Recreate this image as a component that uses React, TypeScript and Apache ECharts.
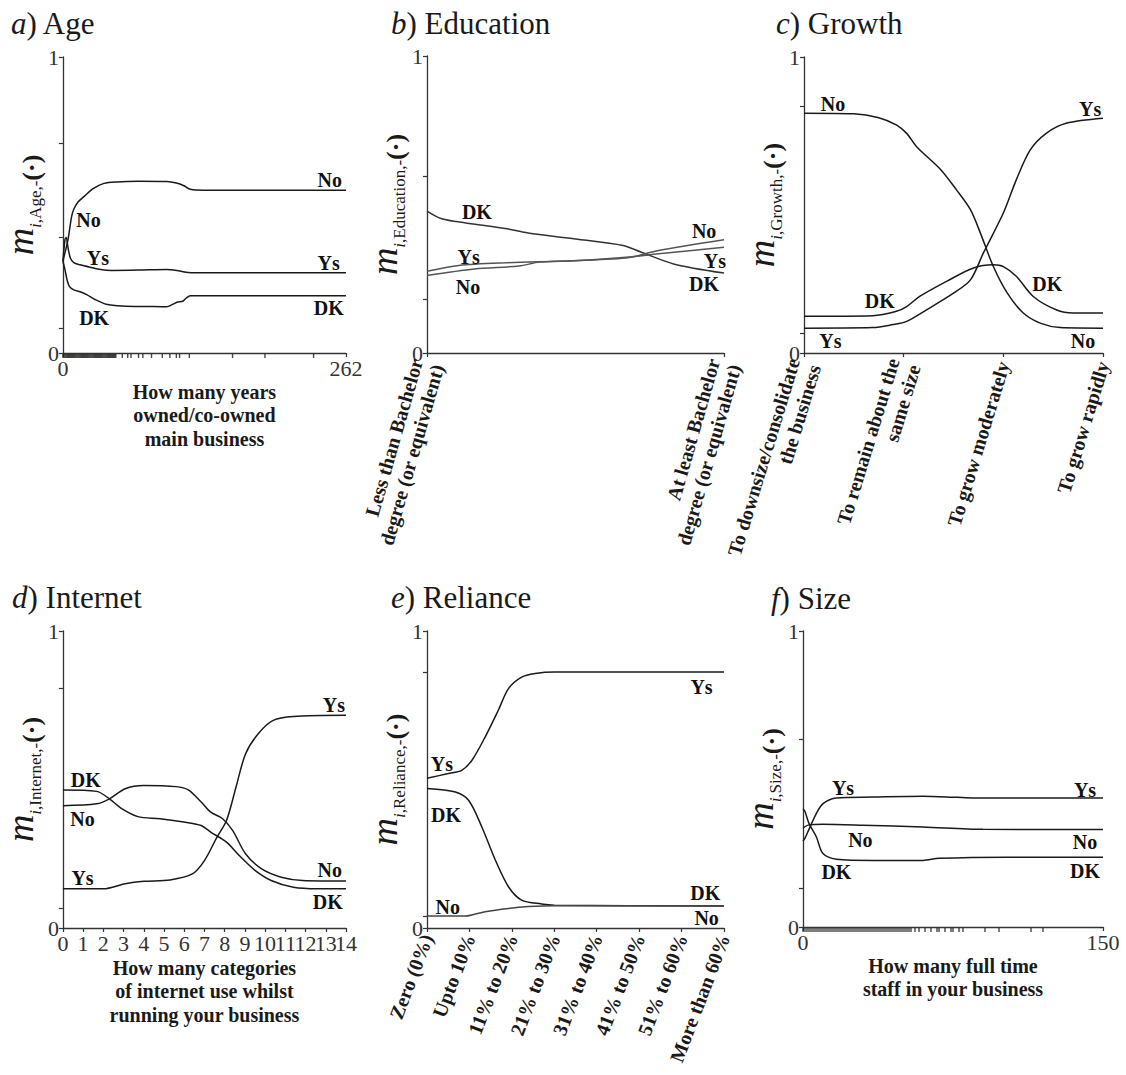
import React, { useEffect, useRef } from "react";
import * as echarts from "echarts";

const SERIF = "'Liberation Serif', 'Times New Roman', serif";
const INK = "#1a1a1a";
const AXIS = "#333";

// ---------- a) Age ----------
const ageNo = [[0,0.31],[2,0.34],[4,0.37],[5.5,0.40],[8,0.46],[10,0.485],[14,0.51],[20,0.53],[28,0.555],[38,0.573],[50,0.578],[70,0.58],[96,0.579],[105,0.574],[112,0.565],[118,0.553],[130,0.55],[262,0.55]];
const ageYs = [[0,0.31],[2,0.385],[3,0.39],[5,0.35],[7,0.32],[10,0.305],[16,0.298],[25,0.29],[35,0.282],[45,0.279],[70,0.28],[96,0.282],[108,0.277],[116,0.272],[130,0.271],[262,0.271]];
const ageDK = [[0,0.31],[2,0.28],[4,0.245],[6,0.225],[10,0.213],[16,0.207],[22,0.197],[30,0.18],[40,0.165],[55,0.159],[80,0.157],[96,0.156],[102,0.165],[106,0.172],[111,0.175],[114,0.185],[118,0.193],[262,0.193]];
const ageRug = [...Array.from({ length: 50 }, (_, i) => i), 55, 60, 63, 70, 74, 82, 92, 99, 105, 108, 117, 157, 187, 232];
const ageYTicks = [0, 0.082, 0.39, 0.709, 1];
const ageTags = [["No", 23.7, 0.449], ["Ys", 32.4, 0.321], ["DK", 28.9, 0.118], ["No", 247, 0.584], ["Ys", 246, 0.304], ["DK", 246, 0.152]];

// ---------- b) Education ----------
const eduCats = ["Less than Bachelor\ndegree (or equivalent)", "At least Bachelor\ndegree (or equivalent)"];
const eduDK = [[0,0.478],[0.05,0.452],[0.13,0.438],[0.27,0.418],[0.34,0.404],[0.5,0.384],[0.66,0.362],[0.72,0.34],[0.83,0.30],[1,0.269]];
const eduYs = [[0,0.275],[0.107,0.295],[0.27,0.304],[0.5,0.311],[0.67,0.322],[0.78,0.334],[1,0.356]];
const eduNo = [[0,0.261],[0.16,0.283],[0.31,0.293],[0.38,0.306],[0.67,0.32],[0.78,0.345],[1,0.381]];
const eduYTicks = [0, 0.18, 0.594, 1];
const eduTags = [["DK", 0.168, 0.474], ["Ys", 0.14, 0.322], ["No", 0.138, 0.222], ["No", 0.933, 0.412], ["Ys", 0.969, 0.311], ["DK", 0.933, 0.233]];

// ---------- c) Growth ----------
const growCats = ["To downsize/consolidate\nthe business", "To remain about the\nsame size", "To grow moderately", "To grow rapidly"];
const growNo = [[0,0.81],[0.5,0.808],[0.75,0.795],[0.93,0.77],[1.03,0.742],[1.13,0.697],[1.37,0.62],[1.53,0.551],[1.67,0.484],[1.77,0.405],[1.9,0.292],[2.04,0.202],[2.2,0.135],[2.37,0.101],[2.57,0.086],[3,0.084]];
const growYs = [[0,0.084],[0.69,0.086],[0.89,0.096],[1.03,0.107],[1.23,0.146],[1.5,0.202],[1.67,0.247],[1.8,0.338],[2.0,0.473],[2.13,0.585],[2.27,0.686],[2.43,0.742],[2.63,0.776],[3,0.793]];
const growDK = [[0,0.124],[0.69,0.126],[0.92,0.14],[1.03,0.157],[1.16,0.191],[1.43,0.242],[1.7,0.287],[1.9,0.298],[2.0,0.292],[2.13,0.259],[2.3,0.191],[2.53,0.146],[2.7,0.135],[3,0.135]];
const growYTicks = [0, 0.068, 0.834, 1];
const growTags = [["No", 0.29, 0.841], ["Ys", 2.87, 0.823], ["DK", 2.44, 0.234], ["DK", 0.76, 0.174], ["Ys", 0.265, 0.039], ["No", 2.8, 0.039]];

// ---------- d) Internet ----------
const netDK = [[0,0.465],[1.67,0.46],[2.3,0.435],[2.93,0.401],[3.71,0.375],[4.8,0.368],[6.06,0.356],[6.84,0.345],[7.31,0.323],[8.09,0.289],[8.72,0.244],[9.5,0.194],[10.3,0.16],[11.4,0.137],[12.6,0.132],[14,0.132]];
const netNo = [[0,0.412],[1.67,0.418],[2.3,0.435],[3.08,0.469],[4.0,0.48],[5.6,0.476],[6.2,0.465],[6.84,0.424],[7.31,0.39],[7.9,0.368],[8.4,0.328],[9.03,0.25],[9.81,0.2],[10.8,0.171],[11.85,0.16],[14,0.158]];
const netYs = [[0,0.132],[2.0,0.132],[3.08,0.149],[4.0,0.157],[5.3,0.162],[6.4,0.182],[7.0,0.227],[7.62,0.306],[8.09,0.362],[8.56,0.474],[9.03,0.586],[9.66,0.654],[10.4,0.699],[11.4,0.712],[14,0.716]];
const netEvenLabels = [0, 2, 4, 6, 8, 10, 12, 14];
const netOddLabels = [1, 3, 5, 7, 9, 11, 13];
const netYTicks = [0, 0.067, 0.806, 1];
const netTags = [["DK", 1.13, 0.497], ["No", 0.97, 0.368], ["Ys", 0.97, 0.168], ["Ys", 13.4, 0.751], ["No", 13.2, 0.196], ["DK", 13.1, 0.087]];

// ---------- e) Reliance ----------
const relCats = ["Zero (0%)", "Upto 10%", "11% to 20%", "21% to 30%", "31% to 40%", "41% to 50%", "51% to 60%", "More than 60%"];
const relYs = [[0,0.504],[0.5,0.52],[0.82,0.531],[1.06,0.565],[1.37,0.643],[1.68,0.733],[1.92,0.806],[2.23,0.845],[2.55,0.857],[3,0.862],[7,0.862]];
const relDK = [[0,0.47],[0.67,0.458],[0.98,0.43],[1.29,0.341],[1.61,0.229],[1.92,0.139],[2.23,0.094],[2.7,0.081],[3,0.077],[7,0.074]];
const relNo = [[0,0.04],[0.9,0.04],[1.37,0.055],[1.92,0.066],[2.39,0.072],[3,0.075],[7,0.075]];
const relYTicks = [0, 0.04, 0.862, 1];
const relTags = [["Ys", 0.35, 0.552], ["DK", 0.45, 0.38], ["No", 0.49, 0.072], ["Ys", 6.47, 0.81], ["DK", 6.56, 0.117], ["No", 6.59, 0.033]];

// ---------- f) Size ----------
const sizeYs = [[0,0.29],[1,0.3],[3,0.33],[6.7,0.384],[10,0.417],[16.7,0.436],[35,0.439],[60,0.442],[77,0.438],[85,0.436],[150,0.436]];
const sizeNo = [[0,0.335],[3,0.345],[10,0.347],[30,0.344],[60,0.338],[90,0.33],[150,0.329]];
const sizeDK = [[0,0.40],[1,0.39],[3,0.35],[6.7,0.304],[10,0.248],[16.7,0.229],[35,0.225],[60,0.225],[68,0.232],[102,0.236],[150,0.236]];
const sizeRug = [...Array.from({ length: 55 }, (_, i) => i), 56, 58, 61, 64, 67, 68, 71, 74, 75, 78, 80, 91, 98, 114, 120];
const sizeYTicks = [0, 0.13, 0.634, 1];
const sizeTags = [["Ys", 20, 0.468], ["Ys", 141, 0.464], ["No", 28.7, 0.293], ["No", 141, 0.287], ["DK", 16.7, 0.186], ["DK", 141, 0.19]];

type Panel = {
  letter: string; title: string; sub: string;
  grid: { left: number; top: number; width: number; height: number };
  titlePos: [number, number];
  x: any; lines: { data: number[][]; color: string }[]; tags: any[]; yTicks: number[]; rug?: number[];
  extraLabels?: number[];
};

const boldName = {
  fontFamily: SERIF, fontWeight: "bold", fontSize: 20, lineHeight: 23.5, color: INK,
};

const tickLabel = { fontFamily: SERIF, fontSize: 22, color: AXIS, hideOverlap: false, showMinLabel: true, showMaxLabel: true };
const catLabel = { fontFamily: SERIF, fontWeight: "bold", fontSize: 20, lineHeight: 22, color: INK, margin: 9, hideOverlap: false };

const panels: Panel[] = [
  {
    letter: "a", title: "Age", sub: "Age", titlePos: [11, 8],
    grid: { left: 47, top: 57, width: 299, height: 296 },
    x: { min: 0, max: 262, axisTick: { customValues: [0, 262], length: 4 }, axisLabel: { customValues: [0, 262], ...tickLabel, margin: 4 },
      name: "How many years\nowned/co-owned\nmain business", nameGap: 25 },
    lines: [{ data: ageNo, color: INK }, { data: ageYs, color: INK }, { data: ageDK, color: INK }],
    tags: ageTags, yTicks: ageYTicks, rug: ageRug,
  },
  {
    letter: "b", title: "Education", sub: "Education", titlePos: [391, 8],
    grid: { left: 427, top: 56, width: 297, height: 297 },
    x: { min: 0, max: 1, interval: 1, axisTick: { length: 4 },
      axisLabel: { formatter: (v: number) => eduCats[Math.round(v)] ?? "", rotate: 74, ...catLabel } },
    lines: [{ data: eduDK, color: "#333" }, { data: eduYs, color: "#555" }, { data: eduNo, color: "#555" }],
    tags: eduTags, yTicks: eduYTicks,
  },
  {
    letter: "c", title: "Growth", sub: "Growth", titlePos: [776, 8],
    grid: { left: 804, top: 57, width: 299, height: 296 },
    x: { min: 0, max: 3, interval: 1, axisTick: { length: 4 },
      axisLabel: { formatter: (v: number) => growCats[Math.round(v)] ?? "", rotate: 73, ...catLabel } },
    lines: [{ data: growNo, color: INK }, { data: growYs, color: INK }, { data: growDK, color: INK }],
    tags: growTags, yTicks: growYTicks,
  },
  {
    letter: "d", title: "Internet", sub: "Internet", titlePos: [12, 582],
    grid: { left: 48, top: 631, width: 298, height: 297 },
    x: { min: 0, max: 14, interval: 1, axisTick: { length: 4 },
      axisLabel: { ...tickLabel, margin: 4, customValues: netEvenLabels },
      name: "How many categories\nof internet use whilst\nrunning your business", nameGap: 28 },
    extraLabels: netOddLabels,
    lines: [{ data: netDK, color: INK }, { data: netNo, color: INK }, { data: netYs, color: INK }],
    tags: netTags, yTicks: netYTicks,
  },
  {
    letter: "e", title: "Reliance", sub: "Reliance", titlePos: [391, 582],
    grid: { left: 427, top: 631, width: 297, height: 297 },
    x: { min: 0, max: 7, interval: 1, axisTick: { length: 4 },
      axisLabel: { formatter: (v: number) => relCats[Math.round(v)] ?? "", rotate: 69, ...catLabel, margin: 7 } },
    lines: [{ data: relYs, color: INK }, { data: relDK, color: INK }, { data: relNo, color: "#444" }],
    tags: relTags, yTicks: relYTicks,
  },
  {
    letter: "f", title: "Size", sub: "Size", titlePos: [771, 583],
    grid: { left: 803, top: 631, width: 300, height: 296 },
    x: { min: 0, max: 150, axisTick: { customValues: [0, 150], length: 4 }, axisLabel: { customValues: [0, 150], ...tickLabel, margin: 4 },
      name: "How many full time\nstaff in your business", nameGap: 27 },
    lines: [{ data: sizeYs, color: INK }, { data: sizeNo, color: INK }, { data: sizeDK, color: INK }],
    tags: sizeTags, yTicks: sizeYTicks, rug: sizeRug,
  },
];

function buildOption() {
  const grid: any[] = [];
  const xAxis: any[] = [];
  const extraX: any[] = [];
  const yAxis: any[] = [];
  const series: any[] = [];
  const title: any[] = [];
  panels.forEach((p, i) => {
    grid.push({ ...p.grid, containLabel: false });
    title.push({
      text: `{i|${p.letter}}{n|) ${p.title}}`,
      left: p.titlePos[0], top: p.titlePos[1], padding: 0,
      textStyle: {
        fontWeight: "normal",
        rich: {
          i: { fontFamily: SERIF, fontStyle: "italic", fontWeight: "normal", fontSize: 31, color: INK },
          n: { fontFamily: SERIF, fontWeight: "normal", fontSize: 31, color: INK },
        },
      },
    });
    const { axisTick, axisLabel, name, nameGap, ...restX } = p.x;
    xAxis.push({
      gridIndex: i, type: "value", ...restX,
      axisLine: { lineStyle: { color: AXIS, width: 1.3 } },
      axisTick: { ...axisTick, lineStyle: { color: AXIS, width: 1.2 } },
      axisLabel,
      splitLine: { show: false },
      ...(name ? { name, nameLocation: "middle", nameGap, nameTextStyle: boldName } : {}),
    });
    if (p.extraLabels) {
      extraX.push({
        gridIndex: i, type: "value", min: restX.min, max: restX.max, interval: restX.interval,
        position: "bottom",
        axisLine: { show: false }, axisTick: { show: false }, splitLine: { show: false },
        axisLabel: { ...axisLabel, customValues: p.extraLabels },
      });
    }
    yAxis.push({
      gridIndex: i, type: "value", min: 0, max: 1,
      axisLine: { show: true, lineStyle: { color: AXIS, width: 1.3 } },
      axisTick: { show: true, customValues: p.yTicks, length: 4, lineStyle: { color: AXIS, width: 1.2 } },
      axisLabel: { customValues: [0, 1], ...tickLabel, margin: 4 },
      splitLine: { show: false },
      name: `{m|m}{s|i}{t|,${p.sub},-}{p|(·)}`,
      nameLocation: "middle", nameRotate: 90, nameGap: 4,
      nameTextStyle: {
        rich: {
          m: { fontFamily: SERIF, fontStyle: "italic", fontSize: 38, color: INK, padding: [0, 0, 5, 0], verticalAlign: "bottom" },
          s: { fontFamily: SERIF, fontStyle: "italic", fontSize: 17, color: INK, verticalAlign: "bottom" },
          t: { fontFamily: SERIF, fontSize: 17, color: INK, verticalAlign: "bottom" },
          p: { fontFamily: SERIF, fontWeight: "bold", fontSize: 26, color: INK, verticalAlign: "bottom" },
        },
      },
    });
    p.lines.forEach((l) => {
      series.push({
        type: "line", xAxisIndex: i, yAxisIndex: i, data: l.data,
        showSymbol: false, smooth: 0.3, silent: true,
        lineStyle: { color: l.color, width: 1.5 },
      });
    });
    if (p.rug) {
      series.push({
        type: "scatter", xAxisIndex: i, yAxisIndex: i, silent: true, clip: false, z: 4,
        symbol: "rect", symbolSize: [1.4, 4], symbolOffset: [0, 3],
        itemStyle: { color: "#1a1a1a" },
        data: p.rug.map((v) => [v, 0]),
      });
    }
    series.push({
      type: "scatter", xAxisIndex: i, yAxisIndex: i, silent: true, z: 5,
      symbol: "circle", symbolSize: 1, itemStyle: { color: "rgba(0,0,0,0)" },
      data: p.tags.map((t: any[]) => ({ name: t[0], value: [t[1], t[2]] })),
      label: {
        show: true, position: "inside", formatter: "{b}",
        fontFamily: SERIF, fontWeight: "bold", fontSize: 20, color: "#111",
        textBorderWidth: 0, opacity: 1,
      },
    });
  });
  return { animation: false, backgroundColor: "#fff", title, grid, xAxis: [...xAxis, ...extraX], yAxis, series };
}

export default function App() {
  const ref = useRef<HTMLDivElement>(null);
  useEffect(() => {
    if (!ref.current) return;
    const chart = echarts.init(ref.current, null, { renderer: "svg" });
    chart.setOption(buildOption() as any);
    return () => chart.dispose();
  }, []);
  return (
    <div
      ref={ref}
      style={{ position: "absolute", left: 0, top: 0, width: 1126, height: 1075, background: "#fff" }}
    />
  );
}
